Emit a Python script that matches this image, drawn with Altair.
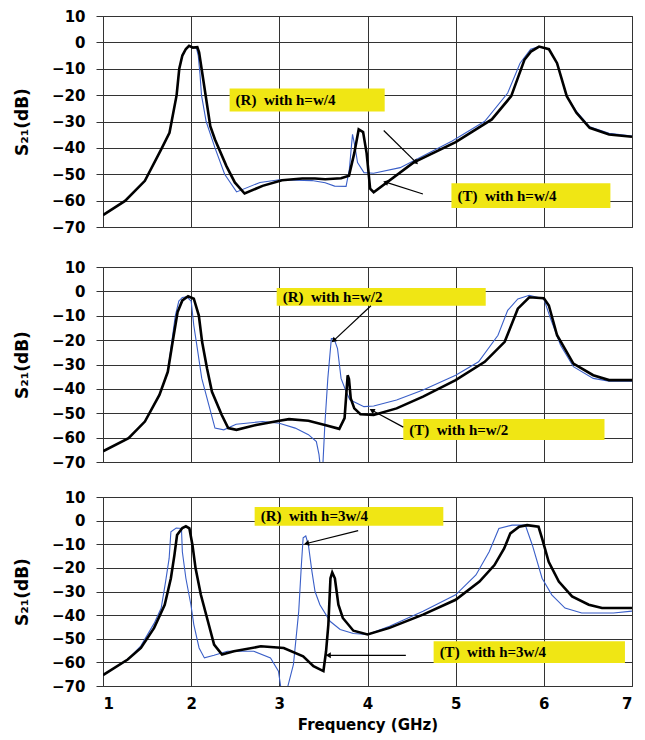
import math
import altair as alt
import pandas as pd

X_TICKS = [1, 2, 3, 4, 5, 6, 7]
Y_TICKS = [-70, -60, -50, -40, -30, -20, -10, 0, 10]

# ---- panel 1 : h = w/4 ----
P1_T_F = [1.0, 1.25, 1.475, 1.66, 1.754, 1.835, 1.865, 1.9, 1.94, 1.976, 2.02, 2.07, 2.09, 2.12, 2.16,
          2.217, 2.27, 2.40, 2.495, 2.606, 2.81, 3.03, 3.26, 3.405, 3.52, 3.70, 3.79, 3.85, 3.90, 3.95,
          3.99, 4.03, 4.07, 4.52, 5.0, 5.41, 5.63, 5.78, 5.853, 5.946, 6.058, 6.15, 6.26, 6.37, 6.52,
          6.74, 7.0]
P1_T_DB = [-65.5, -60.1, -52.5, -40.6, -34.3, -20, -10, -5, -2.5, -1.3, -2.0, -1.8, -3.8, -10.4, -19.2,
           -31.8, -36.8, -46.9, -53.1, -57.3, -54.4, -52.3, -51.6, -51.6, -51.9, -51.5, -50.6, -42, -33, -34,
           -42, -55.5, -56.8, -45.6, -37.8, -29.2, -20.4, -6.6, -3.5, -1.6, -2.6, -7.9, -20.4, -26.7, -32.4,
           -34.9, -35.8]
P1_R_F = [1.0, 1.25, 1.475, 1.66, 1.754, 1.835, 1.865, 1.9, 1.94, 1.976, 2.02, 2.06, 2.08, 2.1, 2.117,
          2.17, 2.27, 2.38, 2.515, 2.78, 3.0, 3.37, 3.52, 3.627, 3.757, 3.794, 3.83, 3.857, 3.887, 3.96,
          4.07, 4.37, 4.96, 5.33, 5.59, 5.73, 5.85, 5.946, 6.058, 6.15, 6.26, 6.37, 6.52, 6.74, 7.0]
P1_R_DB = [-65.5, -60.1, -52.5, -40.6, -34.3, -20, -10, -5, -2.5, -1.3, -1.8, -2.2, -5, -12, -20,
           -30, -40, -50, -56.7, -53.1, -52.1, -52.4, -53.2, -54.5, -54.6, -48.1, -34.9, -39.3, -45.6, -49.4,
           -49.6, -47.5, -37.4, -29.9, -19.2, -7.9, -2.6, -1.6, -2.6, -7.9, -20.4, -26.2, -32, -34.5, -35.5]

# ---- panel 2 : h = w/2 ----
P2_T_F = [1.0, 1.29, 1.475, 1.64, 1.735, 1.79, 1.846, 1.90, 1.965, 2.03, 2.087, 2.124, 2.18, 2.236, 2.347,
          2.42, 2.514, 2.737, 3.0, 3.11, 3.33, 3.516, 3.68, 3.74, 3.775, 3.79, 3.81, 3.85, 3.92, 4.07,
          4.33, 4.63, 5.0, 5.33, 5.556, 5.705, 5.835, 6.0, 6.057, 6.15, 6.335, 6.56, 6.74, 7.0]
P2_T_DB = [-65.6, -60.2, -53.4, -42.5, -33, -20.7, -8.5, -3.7, -2.0, -3, -9.9, -20.7, -31.6, -41.2, -50.7,
           -56.1, -56.8, -54.8, -53.1, -52.4, -53.1, -54.8, -56.4, -52, -34.4, -36, -43.9, -48, -50.4, -50.7,
           -48, -43.2, -36.4, -28.9, -20.7, -7.1, -2.4, -2.8, -5.8, -18, -29.6, -34.4, -36.4, -36.4]
P2_R_F = [1.0, 1.29, 1.475, 1.64, 1.735, 1.78, 1.82, 1.86, 1.90, 1.95, 2.0, 2.03, 2.07, 2.12, 2.2,
          2.27, 2.37, 2.51, 2.81, 3.0, 3.18, 3.33, 3.42, 3.45, 3.47, 3.49, 3.516, 3.55, 3.59, 3.62,
          3.66, 3.70, 3.757, 3.80, 3.96, 4.07, 4.33, 4.63, 5.0, 5.26, 5.48, 5.59, 5.705, 5.835, 6.0,
          6.076, 6.19, 6.335, 6.56, 6.74, 7.0]
P2_R_DB = [-65.6, -60.2, -53.4, -42.5, -33, -20.7, -10, -4, -2.5, -2.2, -4, -14, -23.5, -35.7, -46.6,
           -56.1, -56.8, -54.5, -53.4, -54.1, -56.1, -58.8, -61.6, -67, -74, -74, -54.8, -35.7, -19.4, -19.4,
           -23.5, -35.7, -41.1, -44.5, -47.3, -47, -44.6, -40.5, -34.4, -28.9, -18, -7.8, -3.1, -1.6, -3.1,
           -11.2, -22.1, -30.9, -35.7, -36.8, -36.8]

# ---- panel 3 : h = 3w/4 ----
P3_T_F = [1.0, 1.28, 1.43, 1.58, 1.70, 1.77, 1.81, 1.84, 1.90, 1.94, 1.98, 2.015, 2.05, 2.11, 2.18,
          2.26, 2.35, 2.485, 2.79, 3.05, 3.27, 3.387, 3.5, 3.53, 3.556, 3.58, 3.60, 3.63, 3.67, 3.72,
          3.84, 4.0, 4.25, 4.63, 5.0, 5.27, 5.44, 5.55, 5.62, 5.72, 5.81, 5.94, 5.98, 6.055, 6.17,
          6.32, 6.51, 6.66, 7.0]
P3_T_DB = [-65.4, -58.8, -53.9, -45.4, -35.6, -24.4, -14.6, -6.1, -3.1, -2.4, -3.3, -10.4, -20.2, -31.4, -41.2,
           -52.5, -56.7, -55.3, -53.2, -53.9, -57.4, -61.6, -63.7, -55.3, -44, -24.4, -21.9, -24.4, -35.6, -41.2,
           -46.6, -48.2, -45.4, -39.8, -33.5, -25.8, -18.8, -11.8, -5.4, -2.6, -1.9, -2.6, -7.5, -17.4, -25.8,
           -32.1, -35.6, -37.0, -37.0]
P3_R_F = [1.0, 1.28, 1.43, 1.58, 1.66, 1.71, 1.75, 1.77, 1.83, 1.89, 1.90, 1.94, 1.997, 2.03, 2.09,
          2.15, 2.26, 2.41, 2.71, 2.90, 2.99, 3.03, 3.07, 3.16, 3.22, 3.25, 3.27, 3.30, 3.33, 3.37,
          3.405, 3.46, 3.575, 3.69, 3.84, 4.0, 4.25, 4.63, 5.0, 5.23, 5.38, 5.49, 5.64, 5.79, 5.87,
          5.98, 6.09, 6.24, 6.43, 6.79, 7.0]
P3_R_DB = [-65.4, -58.8, -53, -43.5, -37, -25.8, -16, -4.7, -3.1, -3.3, -13.2, -24.4, -35.6, -44, -53.9,
           -58.1, -57, -55.3, -55.3, -58.1, -63.7, -74, -74, -60.9, -38.4, -18.8, -7.3, -6.5, -10.4, -21.6,
           -30, -35.6, -42.6, -46.1, -47.8, -48.2, -44.7, -38.4, -31.4, -23, -13.2, -3.3, -1.9, -1.9, -10.4,
           -24.4, -31.4, -37, -39.1, -39.1, -38.3]

# ---- annotations (data units) ----
P1_LABELS = ["(R)\u00a0 with h=w/4", "(T)\u00a0 with h=w/4"]
P1_BOX_X1 = [2.436, 4.952]
P1_BOX_X2 = [4.195, 6.755]
P1_BOX_Y1 = [-17.5, -53.4]
P1_BOX_Y2 = [-26.2, -62.8]
P1_ARR = [(4.184, -33.4, 4.551, -45.5), (4.629, -57.5, 4.206, -53.0)]

P2_LABELS = ["(R)\u00a0 with h=w/2", "(T)\u00a0 with h=w/2"]
P2_BOX_X1 = [2.970, 4.406]
P2_BOX_X2 = [5.341, 6.688]
P2_BOX_Y1 = [1.4, -52.4]
P2_BOX_Y2 = [-5.9, -61.0]
P2_ARR = [(4.039, -5.9, 3.616, -20.2), (4.406, -55.7, 4.050, -48.8)]

P3_LABELS = ["(R)\u00a0 with h=3w/4", "(T)\u00a0 with h=3w/4"]
P3_BOX_X1 = [2.72, 4.75]
P3_BOX_X2 = [4.86, 6.92]
P3_BOX_Y1 = [5.8, -51.1]
P3_BOX_Y2 = [-2.2, -60.3]
P3_ARR = [(3.894, -4.2, 3.308, -9.7), (4.435, -57.0, 3.555, -57.0)]

BLACK = "#000000"
BLUE = "#3a5fc8"
YELLOW = "#f0e614"
GRID = "#333333"
W = 529
HEIGHTS = [211, 195, 189]
XDOM = [1, 7]
YDOM = [-70, 10]


def xenc(field, bottom):
    sc = alt.Scale(domain=XDOM, nice=False, zero=False)
    if bottom:
        ax = alt.Axis(values=X_TICKS, grid=True, labels=True, ticks=False, domain=False,
                      labelFontSize=15, labelPadding=10, titleFontSize=15, titlePadding=6, format="d")
        return alt.X(field, type="quantitative", scale=sc, axis=ax, title="Frequency (GHz)")
    ax = alt.Axis(values=X_TICKS, grid=True, labels=False, ticks=False, domain=False)
    return alt.X(field, type="quantitative", scale=sc, axis=ax, title=None)


def yenc(field):
    sc = alt.Scale(domain=YDOM, nice=False, zero=False)
    ax = alt.Axis(values=Y_TICKS, grid=True, ticks=True, tickSize=7, tickColor=GRID, domain=False,
                  labelFontSize=15, labelPadding=11, titleFontSize=17, titlePadding=20, format="d")
    return alt.Y(field, type="quantitative", scale=sc, axis=ax, title="S\u2082\u2081(dB)")


def panel(tf, tdb, rf, rdb, labels, bx1, bx2, by1, by2, arrows, height, bottom):
    df_t = pd.DataFrame({"f": tf, "db": tdb, "o": list(range(len(tf)))})
    df_r = pd.DataFrame({"f": rf, "db": rdb, "o": list(range(len(rf)))})
    blue = alt.Chart(df_r).mark_line(color=BLUE, strokeWidth=1.1, clip=True).encode(
        x=xenc("f", bottom), y=yenc("db"), order="o:Q")
    black = alt.Chart(df_t).mark_line(color=BLACK, strokeWidth=2.6, clip=True).encode(
        x=xenc("f", bottom), y=yenc("db"), order="o:Q")
    df_box = pd.DataFrame({"f": bx1, "f2": bx2, "db": by1, "db2": by2, "label": labels})
    df_box["dbm"] = (df_box["db"] + df_box["db2"]) / 2
    boxes = alt.Chart(df_box).mark_rect(color=YELLOW).encode(
        x=xenc("f", bottom), x2="f2:Q", y=yenc("db"), y2="db2:Q")
    texts = alt.Chart(df_box).mark_text(align="left", baseline="middle", dx=6, font="Liberation Serif",
                                        fontWeight="bold", fontSize=15, color=BLACK).encode(
        x=xenc("f", bottom), y=yenc("dbm"), text="label:N")
    sx = W / (XDOM[1] - XDOM[0])
    sy = height / (YDOM[1] - YDOM[0])
    angles = []
    for a in arrows:
        dx = (a[2] - a[0]) * sx
        dy = -(a[3] - a[1]) * sy
        angles.append(math.degrees(math.atan2(dx, -dy)) % 360)
    df_arr = pd.DataFrame({"f": [a[0] for a in arrows], "db": [a[1] for a in arrows],
                           "f2": [a[2] for a in arrows], "db2": [a[3] for a in arrows], "ang": angles})
    rules = alt.Chart(df_arr).mark_rule(color=BLACK, strokeWidth=1.2).encode(
        x=xenc("f", bottom), y=yenc("db"), x2="f2:Q", y2="db2:Q")
    heads = alt.Chart(df_arr).mark_point(shape="triangle-up", filled=True, color=BLACK, size=35, opacity=1).encode(
        x=xenc("f2", bottom), y=yenc("db2"),
        angle=alt.Angle("ang:Q", scale=None))
    return alt.layer(blue, black, boxes, texts, rules, heads).properties(width=W, height=height)


c1 = panel(P1_T_F, P1_T_DB, P1_R_F, P1_R_DB, P1_LABELS, P1_BOX_X1, P1_BOX_X2, P1_BOX_Y1, P1_BOX_Y2,
           P1_ARR, HEIGHTS[0], False)
c2 = panel(P2_T_F, P2_T_DB, P2_R_F, P2_R_DB, P2_LABELS, P2_BOX_X1, P2_BOX_X2, P2_BOX_Y1, P2_BOX_Y2,
           P2_ARR, HEIGHTS[1], False)
c3 = panel(P3_T_F, P3_T_DB, P3_R_F, P3_R_DB, P3_LABELS, P3_BOX_X1, P3_BOX_X2, P3_BOX_Y1, P3_BOX_Y2,
           P3_ARR, HEIGHTS[2], True)

top_pair = alt.vconcat(c1, c2, spacing=23)
chart = alt.vconcat(top_pair, c3, spacing=18).properties(
    padding={"left": 5, "top": 0, "right": 0, "bottom": 0}
).configure_view(stroke=GRID, strokeWidth=1).configure_axis(
    gridColor=GRID, gridWidth=1, gridOpacity=1,
    labelFont="DejaVu Sans", labelFontWeight="bold", labelColor=BLACK,
    titleFont="DejaVu Sans", titleFontWeight="bold", titleColor=BLACK,
)

chart.save("out.html", embed_options={"renderer": "svg", "actions": False})
